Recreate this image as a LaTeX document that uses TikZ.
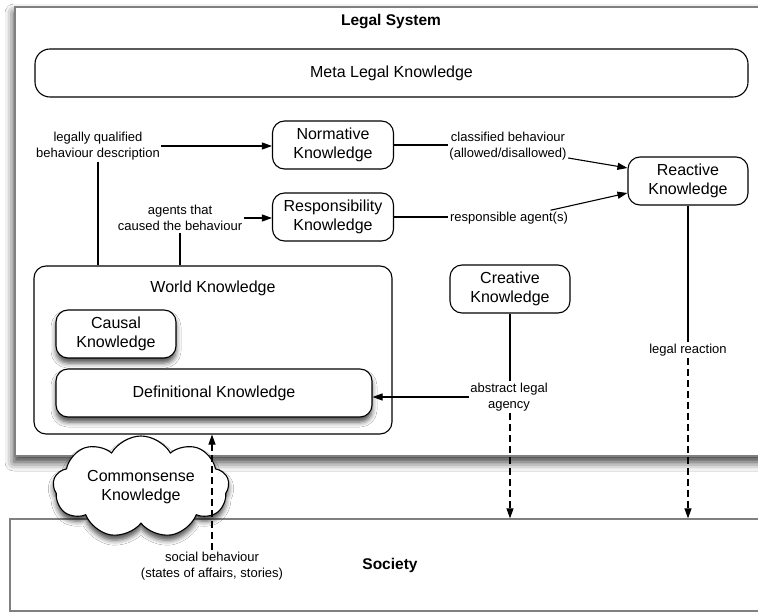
\documentclass[tikz,border=0pt]{standalone}
\usepackage{fontspec}
\setmainfont{Liberation Sans}
\usetikzlibrary{arrows.meta,shapes.symbols,shadows.blur,calc}

\tikzset{
  box/.style={draw, line width=1.1pt, rounded corners=12pt, fill=white, align=center,
    font=\fontsize{16}{19.5}\selectfont, inner sep=0pt},
  lbl/.style={align=center, font=\fontsize{13}{16.5}\selectfont, inner sep=1.5pt},
  conn/.style={line width=1.1pt},
  arr/.style={conn, -{Triangle[length=10pt,width=7pt]}},
  dsh/.style={arr, dash pattern=on 7pt off 4pt},
  softshade/.style={blur shadow={shadow xshift=0pt, shadow yshift=-5pt,
    shadow blur radius=5pt, shadow opacity=70}},
  bigshade/.style={blur shadow={shadow xshift=-1pt, shadow yshift=-6pt,
    shadow blur radius=9pt, shadow opacity=80}},
  frame/.style={draw=black!50, fill=white, line width=1.3pt, inner sep=0pt},
  title/.style={font=\fontsize{15.5}{18}\selectfont\bfseries, inner sep=0pt},
}

\begin{document}
\begin{tikzpicture}[x=1pt,y=-1pt]
\useasboundingbox (0,0) rectangle (758,612);
\fill[white] (0,0) rectangle (758,612);

% outer frames
\node[frame, bigshade, minimum width=760pt, minimum height=449pt]
  (legal) at (395,231.5) {};
\node[title] (legaltitle) at (391,22) {Legal System};

\node[frame, minimum width=757pt, minimum height=92pt]
  (society) at (388.5,565) {};
\node[title] (societytitle) at (390,565) {Society};

% knowledge boxes
\node[box, rounded corners=15pt, minimum width=713pt, minimum height=48pt] (meta) at (391.5,73) {Meta Legal Knowledge};
\node[box, minimum width=121pt, minimum height=48pt] (norm) at (333,145) {Normative\\Knowledge};
\node[box, minimum width=121pt, minimum height=48pt] (resp) at (333,217) {Responsibility\\Knowledge};
\node[box, minimum width=120pt, minimum height=48pt] (react) at (688,181) {Reactive\\Knowledge};
\node[box, minimum width=120pt, minimum height=48pt] (creative) at (510,289) {Creative\\Knowledge};

\node[box, minimum width=358pt, minimum height=168pt] (world) at (213,350) {};
\node[font=\fontsize{16}{19.5}\selectfont, inner sep=0pt] (worldtitle) at (213,288) {World Knowledge};
\node[box, softshade, minimum width=120pt, minimum height=48pt] (causal) at (116,334) {Causal\\Knowledge};
\node[box, softshade, minimum width=316pt, minimum height=48pt] (defn) at (214,393) {Definitional Knowledge};

% connector labels
\node[lbl] (lq) at (98,146) {legally qualified\\behaviour description};
\node[lbl] (ag) at (180,218) {agents that\\caused the behaviour};
\node[lbl] (cls) at (508,146) {classified behaviour\\(allowed/disallowed)};
\node[lbl] (rsp) at (509,218) {responsible agent(s)};
\node[lbl, fill=white] (lr) at (688,350) {legal reaction};
\node[lbl] (abs) at (509,397) {abstract legal\\agency};

% connectors
\draw[arr] (lq.east) -- (lq.east -| norm.west);
\draw[conn] (lq.south) -- (lq.south |- world.north);
\draw[arr] (ag.east) -- (ag.east -| resp.west);
\draw[conn] (ag.south) -- (ag.south |- world.north);

\draw[conn] (norm.east) -- (norm.east -| cls.west);
\draw[arr] ([yshift=4pt]cls.south east) -- ([yshift=13pt]react.west);
\draw[conn] (resp.east) -- (resp.east -| rsp.west);
\draw[arr] ([xshift=-19pt]rsp.north east) -- ([yshift=-12pt]react.west);

\draw[conn] (react.south) -- (react.south |- lr.north);
\draw[dsh] (react.south |- lr.south) -- (react.south |- society.north);

\draw[conn] (creative.south) -- (creative.south |- abs.north);
\draw[dsh] (creative.south |- abs.south) -- (creative.south |- society.north);
\draw[arr] (abs.west) -- (abs.west -| defn.east);

% commonsense cloud over the frame edges
\node[cloud, draw, fill=white, line width=1.1pt, softshade, cloud puffs=9, cloud puff arc=120,
  cloud ignores aspect, minimum width=176pt, minimum height=102pt, inner sep=0pt, align=center,
  font=\fontsize{16}{19.5}\selectfont] (cs) at (141,487) {Commonsense\\Knowledge};

\node[lbl] (soc) at (212,566) {social behaviour\\(states of affairs, stories)};
\draw[dsh] (soc.north) -- (soc.north |- world.south);
\end{tikzpicture}
\end{document}
